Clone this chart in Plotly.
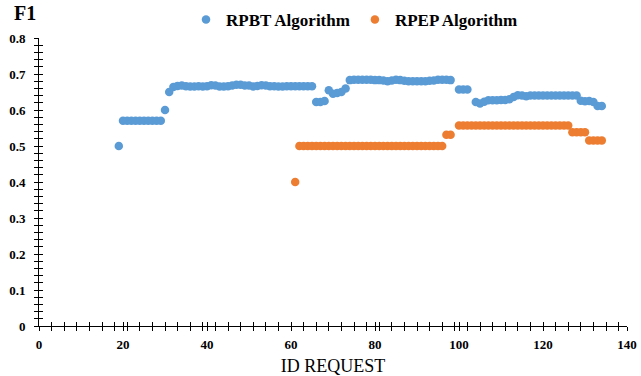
import plotly.graph_objects as go

# ---- data ----
rpbt_x = [19, 20, 21, 22, 23, 24, 25, 26, 27, 28, 29, 30, 31,
          32, 33, 34, 35, 36, 37, 38, 39, 40, 41, 42, 43, 44, 45, 46, 47, 48, 49,
          50, 51, 52, 53, 54, 55, 56, 57, 58, 59, 60, 61, 62, 63, 64, 65,
          66, 67, 68, 69, 70, 71, 72, 73,
          74, 75, 76, 77, 78, 79, 80, 81, 82, 83, 84, 85, 86, 87, 88, 89,
          90, 91, 92, 93, 94, 95, 96, 97, 98,
          100, 101, 102,
          104, 105, 106, 107, 108, 109, 110, 111, 112, 113, 114, 115, 116,
          117, 118, 119, 120, 121, 122, 123, 124, 125, 126, 127, 128,
          129, 130, 131, 132, 133, 134]
rpbt_y = [0.50, 0.57, 0.57, 0.57, 0.57, 0.57, 0.57, 0.57, 0.57, 0.57, 0.57, 0.60, 0.65,
          0.664, 0.667, 0.668, 0.666, 0.665, 0.665, 0.666, 0.665, 0.666, 0.669, 0.668, 0.665,
          0.665, 0.666, 0.668, 0.670, 0.670, 0.668,
          0.668, 0.665, 0.667, 0.669, 0.668, 0.666, 0.666, 0.665, 0.665, 0.666, 0.666, 0.666,
          0.666, 0.666, 0.666, 0.666,
          0.622, 0.622, 0.625, 0.655, 0.645, 0.647, 0.650, 0.660,
          0.683, 0.684, 0.684, 0.684, 0.684, 0.684, 0.683, 0.683, 0.682, 0.680, 0.682, 0.684,
          0.683, 0.681, 0.680, 0.680,
          0.680, 0.680, 0.680, 0.681, 0.682, 0.684, 0.684, 0.684, 0.683,
          0.657, 0.657, 0.657,
          0.622, 0.618, 0.623, 0.627, 0.627, 0.627, 0.628, 0.628, 0.630, 0.636, 0.641, 0.640, 0.638,
          0.640, 0.640, 0.640, 0.640, 0.640, 0.640, 0.640, 0.640, 0.640, 0.640, 0.640, 0.640,
          0.626, 0.624, 0.625, 0.622, 0.611, 0.611]

rpep_x = [61,
          62, 63, 64, 65, 66, 67, 68, 69, 70, 71, 72, 73, 74, 75, 76, 77, 78, 79,
          80, 81, 82, 83, 84, 85, 86, 87, 88, 89, 90, 91, 92, 93, 94, 95, 96,
          97, 98,
          100, 101, 102, 103, 104, 105, 106, 107, 108, 109, 110, 111, 112, 113,
          114, 115, 116, 117, 118, 119, 120, 121, 122, 123, 124, 125, 126,
          127, 128, 129, 130,
          131, 132, 133, 134]
rpep_y = [0.40,
          0.50, 0.50, 0.50, 0.50, 0.50, 0.50, 0.50, 0.50, 0.50, 0.50, 0.50, 0.50, 0.50, 0.50,
          0.50, 0.50, 0.50, 0.50,
          0.50, 0.50, 0.50, 0.50, 0.50, 0.50, 0.50, 0.50, 0.50, 0.50, 0.50, 0.50, 0.50, 0.50,
          0.50, 0.50, 0.50,
          0.531, 0.531,
          0.557, 0.557, 0.557, 0.557, 0.557, 0.557, 0.557, 0.557, 0.557, 0.557, 0.557, 0.557,
          0.557, 0.557,
          0.557, 0.557, 0.557, 0.557, 0.557, 0.557, 0.557, 0.557, 0.557, 0.557, 0.557, 0.557, 0.557,
          0.538, 0.538, 0.538, 0.538,
          0.515, 0.515, 0.515, 0.515]

series_names = ["RPBT Algorithm", "RPEP Algorithm"]
series_colors = ["#5B9BD5", "#ED7D31"]

x_tickvals = [0, 20, 40, 60, 80, 100, 120, 140]
x_ticktext = ["0", "20", "40", "60", "80", "100", "120", "140"]
y_tickvals = [0, 0.1, 0.2, 0.3, 0.4, 0.5, 0.6, 0.7, 0.8]
y_ticktext = ["0", "0.1", "0.2", "0.3", "0.4", "0.5", "0.6", "0.7", "0.8"]

FONT = "Liberation Serif"

fig = go.Figure()
fig.add_trace(go.Scatter(x=rpbt_x, y=rpbt_y, mode="markers", name=series_names[0],
                         marker=dict(color=series_colors[0], size=8.5)))
fig.add_trace(go.Scatter(x=rpep_x, y=rpep_y, mode="markers", name=series_names[1],
                         marker=dict(color=series_colors[1], size=8.5)))
# empty trace so the overlay axes (inner half of the cross ticks) exist
fig.add_trace(go.Scatter(x=[None], y=[None], xaxis="x2", yaxis="y2",
                         showlegend=False, hoverinfo="skip"))

tickfont = dict(family=FONT, size=13, color="black", weight="bold")

fig.update_layout(
    width=641, height=376,
    margin=dict(l=39, r=14, t=38, b=50, autoexpand=False),
    paper_bgcolor="white", plot_bgcolor="white",
    font=dict(family=FONT, color="black"),
    showlegend=True,
    legend=dict(orientation="h", x=0.25, xanchor="left", y=1.0625, yanchor="middle",
                font=dict(family=FONT, size=17, color="black", weight="bold"),
                itemwidth=30, tracegroupgap=0, bgcolor="rgba(0,0,0,0)"),
    xaxis=dict(range=[0, 140], tickvals=x_tickvals, ticktext=x_ticktext, automargin=False,
               showgrid=False, zeroline=False, showline=True, linecolor="black", linewidth=1,
               ticks="outside", ticklen=4, tickcolor="black", tickwidth=1,
               minor=dict(dtick=3, tick0=0, ticks="outside", ticklen=4, tickcolor="black", showgrid=False),
               tickfont=tickfont, ticklabelstandoff=2,
               title=dict(text="ID REQUEST", font=dict(family=FONT, size=18, color="black"), standoff=9)),
    yaxis=dict(range=[0, 0.8], tickvals=y_tickvals, ticktext=y_ticktext, automargin=False,
               showgrid=False, zeroline=False, showline=True, linecolor="black", linewidth=1,
               ticks="outside", ticklen=4, tickcolor="black", tickwidth=1,
               minor=dict(dtick=0.02, tick0=0, ticks="outside", ticklen=4, tickcolor="black", showgrid=False),
               tickfont=tickfont, ticklabelstandoff=6),
    xaxis2=dict(range=[0, 140], overlaying="x", anchor="y2", side="bottom", automargin=False,
                tickvals=x_tickvals, showticklabels=False, showgrid=False, zeroline=False,
                showline=False, ticks="inside", ticklen=4, tickcolor="black", tickwidth=1,
                minor=dict(dtick=3, tick0=0, ticks="inside", ticklen=4, tickcolor="black", showgrid=False)),
    yaxis2=dict(range=[0, 0.8], overlaying="y", anchor="x2", side="left", automargin=False,
                tickvals=y_tickvals, showticklabels=False, showgrid=False, zeroline=False,
                showline=False, ticks="inside", ticklen=4, tickcolor="black", tickwidth=1,
                minor=dict(dtick=0.02, tick0=0, ticks="inside", ticklen=4, tickcolor="black", showgrid=False)),
    annotations=[dict(text="F1", xref="paper", yref="paper", x=-0.023, y=1.087,
                      xanchor="center", yanchor="middle", showarrow=False,
                      font=dict(family=FONT, size=20, color="black", weight="bold"))],
)

fig.write_html("out.html", config={"displayModeBar": False},
               post_script="document.body.style.margin='0';")
